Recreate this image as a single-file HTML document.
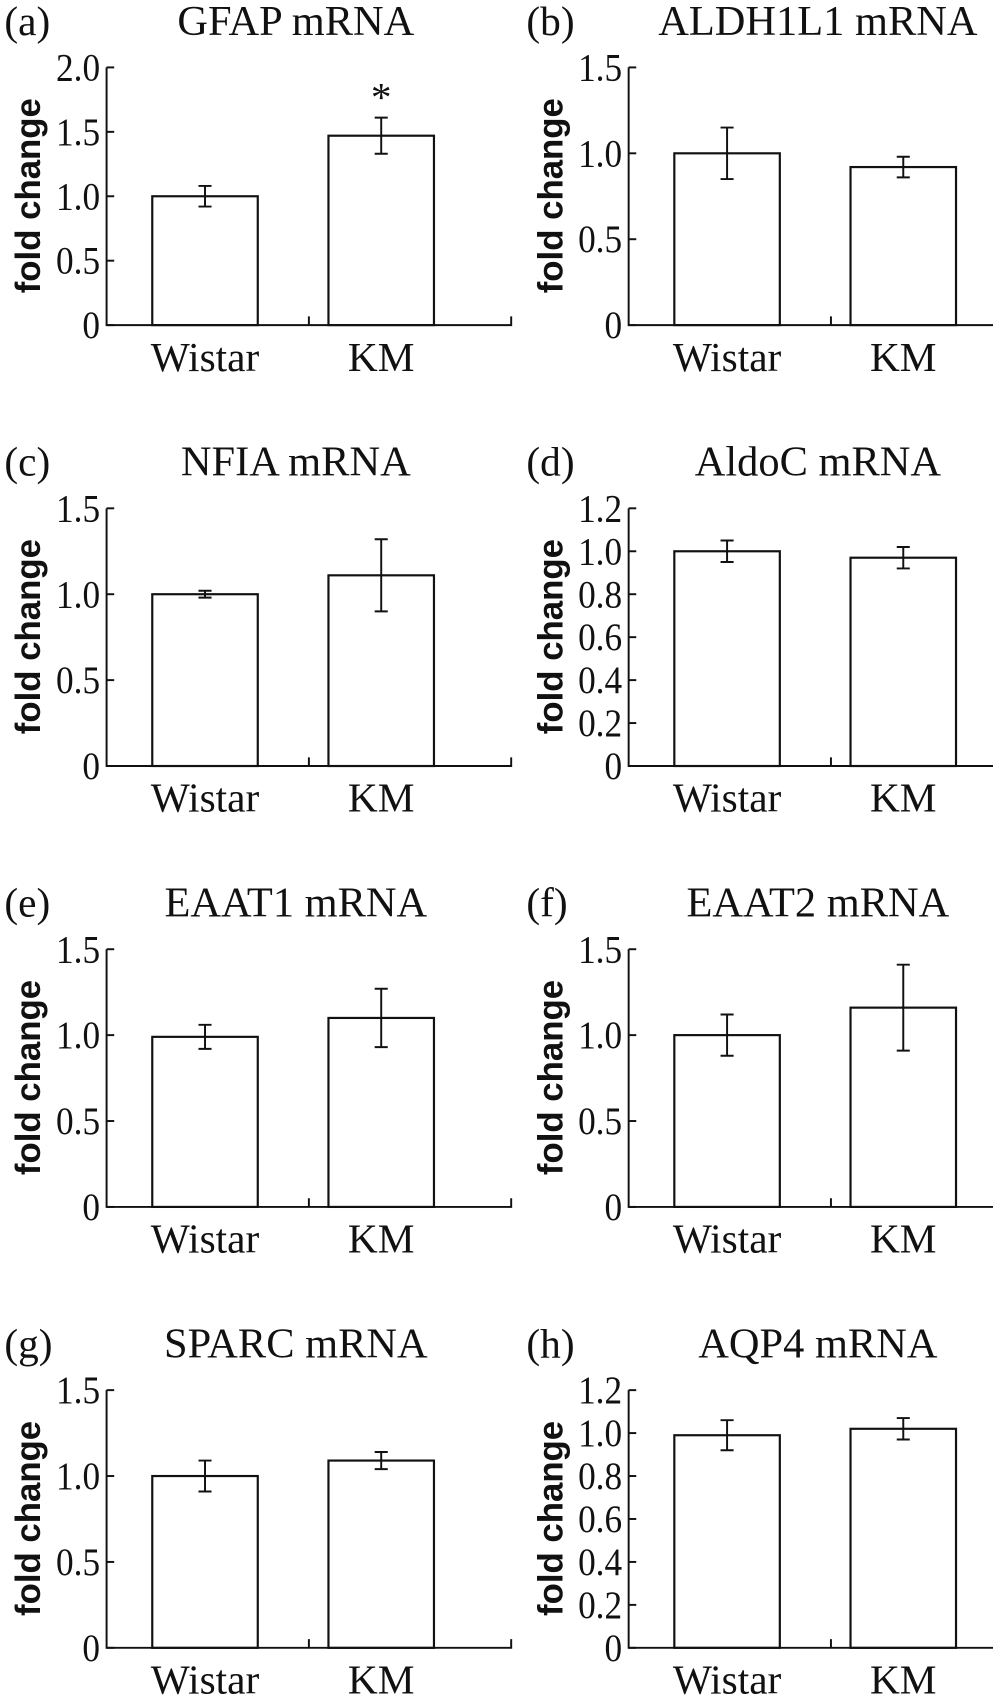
<!DOCTYPE html>
<html><head><meta charset="utf-8"><style>
html,body{margin:0;padding:0;background:#fff;}
svg{display:block;}
text{font-family:"Liberation Serif",serif;fill:#111;}
</style></head><body>
<svg id="fig" width="993" height="1706" viewBox="0 0 913 1569" preserveAspectRatio="none" xmlns="http://www.w3.org/2000/svg"></svg>
<script>
const panelLetters = ['(a)','(b)','(c)','(d)','(e)','(f)','(g)','(h)'];
const panelTitles = ['GFAP mRNA','ALDH1L1 mRNA','NFIA mRNA','AldoC mRNA','EAAT1 mRNA','EAAT2 mRNA','SPARC mRNA','AQP4 mRNA'];
const categories = ['Wistar','KM'];
const wistarMeans = [1.0, 1.0, 1.0, 1.0, 0.99, 1.0, 1.0, 0.99];
const wistarErrs  = [0.08, 0.15, 0.02, 0.05, 0.07, 0.12, 0.09, 0.07];
const kmMeans     = [1.47, 0.92, 1.11, 0.97, 1.10, 1.16, 1.09, 1.02];
const kmErrs      = [0.14, 0.06, 0.21, 0.05, 0.17, 0.25, 0.05, 0.05];
const yMaxes      = [2.0, 1.5, 1.5, 1.2, 1.5, 1.5, 1.5, 1.2];
const tickSets = [
  ['0','0.5','1.0','1.5','2.0'],
  ['0','0.5','1.0','1.5'],
  ['0','0.5','1.0','1.5'],
  ['0','0.2','0.4','0.6','0.8','1.0','1.2'],
  ['0','0.5','1.0','1.5'],
  ['0','0.5','1.0','1.5'],
  ['0','0.5','1.0','1.5'],
  ['0','0.2','0.4','0.6','0.8','1.0','1.2']
];
const significance = ['*','','','','','','',''];

const NS='http://www.w3.org/2000/svg';
const svg=document.getElementById('fig');
function mk(tag,attrs,parent){const e=document.createElementNS(NS,tag);for(const k in attrs)e.setAttribute(k,attrs[k]);(parent||svg).appendChild(e);return e;}

for(let p=0;p<8;p++){
  const col=p%2,row=Math.floor(p/2);
  const ox=col*480, oy=row*405.5;
  const axX=98+ox, axEnd=470+ox, y0=299+oy, yTop=62+oy;
  const g=mk('g',{});
  
  
  const yScale=v=>y0-(v/yMaxes[p])*(y0-yTop);
  const barL=[140+ox,302+ox], bw=97;
  const xc=i=>barL[i]+bw/2;
  let t=mk('text',{x:4+ox,y:32+oy,'font-size':38},g);t.textContent=panelLetters[p];
  
  t=mk('text',{x:272+ox,y:32+oy,'font-size':39,'text-anchor':'middle'},g);t.textContent=panelTitles[p];
  
  t=mk('text',{x:0,y:0,'font-size':32,'font-weight':'bold','text-anchor':'middle',style:'font-family:"Liberation Sans",sans-serif','transform':`translate(${37+ox},${180+oy}) rotate(-90)`},g);
  t.textContent='fold change';
  
  const means=[wistarMeans[p],kmMeans[p]], errs=[wistarErrs[p],kmErrs[p]];
  for(let i=0;i<2;i++){
    const r=mk('rect',{x:barL[i],y:yScale(means[i]),width:bw,height:y0-yScale(means[i]),fill:'#fff',stroke:'#111','stroke-width':2},g);
    
    const hi=yScale(means[i]+errs[i]), lo=yScale(means[i]-errs[i]);
    const e=mk('path',{d:`M${xc(i)},${hi}V${lo}M${xc(i)-6},${hi}H${xc(i)+6}M${xc(i)-6},${lo}H${xc(i)+6}`,stroke:'#111','stroke-width':1.8,fill:'none'},g);
    
    const xl=mk('text',{x:xc(i),y:y0+42,'font-size':38,'text-anchor':'middle'},g);xl.textContent=categories[i];
    
  }
  if(significance[p]){
    const s=mk('text',{x:xc(1),y:yScale(kmMeans[p]+kmErrs[p])-6,'font-size':38,'text-anchor':'middle'},g);
    s.textContent=significance[p];
    
  }
  const ax=mk('path',{d:`M${axX},${yTop}V${y0}H${axEnd}V${y0-8}M${(axX+axEnd)/2},${y0}V${y0-8}`,stroke:'#111','stroke-width':1.8,fill:'none'},g);
  
  tickSets[p].forEach(lbl=>{
    const v=parseFloat(lbl), y=yScale(v);
    const tk=mk('path',{d:`M${axX},${y}H${axX+7}`,stroke:'#111','stroke-width':1.8},g);
    
    const digits=lbl.replace('.','').length, dots=lbl.includes('.')?1:0;
    const tl=mk('text',{x:axX-6,y:y+12,'font-size':36,'text-anchor':'end',textLength:(36*(0.5*digits+0.25*dots)*0.9).toFixed(1),lengthAdjust:'spacingAndGlyphs'},g);tl.textContent=lbl;
    
  });
}
</script>
</body></html>
